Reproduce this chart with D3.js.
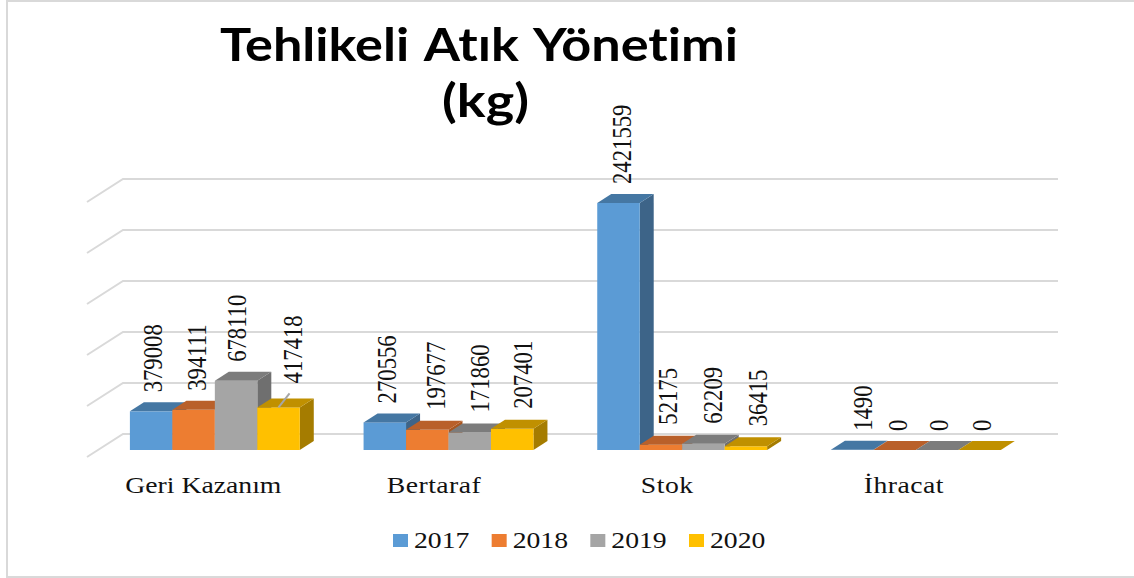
<!DOCTYPE html>
<html><head><meta charset="utf-8">
<script src="https://cdn.jsdelivr.net/npm/d3@7"></script>
<style>html,body{margin:0;padding:0;background:#fff}svg{display:block}</style>
</head><body><svg id="c" width="1134" height="578"></svg>
<script>
const categories = ["Geri Kazanım","Bertaraf","Stok","İhracat"];
const years = ["2017","2018","2019","2020"];
const values2017 = [379008,270556,2421559,1490];
const values2018 = [394111,197677,52175,0];
const values2019 = [678110,171860,62209,0];
const values2020 = [417418,207401,36415,0];
const gridTicks = [0,500000,1000000,1500000,2000000,2500000];
const series = [values2017,values2018,values2019,values2020];

const front = ["#5b9bd5","#ed7d31","#a5a5a5","#ffc000"];
const top3d = ["#4577a3","#b9602a","#7c7c7c","#c09000"];
const side3d = ["#3d6488","#a85620","#6f6f6f","#a57c00"];
// label nudges: [dx from bar centre, gap above bar top], per series then category
const nudge = [
 [[2,19],[2,19],[4,19],[11,19]],
 [[3,19],[9,20],[7,20],[3,19]],
 [[1,19],[10,20],[10,20],[2,19]],
 [[14,24],[11,20],[12,20],[2,19]]
];
const catShift = [-11.5,-14.5,-15,-12];
const catSpacing = [0,0.4,0.4,0.4];
const depthX=14, depthY=9, wallX=36, wallY=23;

const svg=d3.select("#c");
const y=d3.scaleLinear().domain([0,2500000]).range([450,195]);
const xg=d3.scaleBand().domain(categories).range([98,1032.7]).paddingInner(.273).paddingOuter(.1365);
const xs=d3.scaleBand().domain(years).range([0,xg.bandwidth()]);
const serif="'Liberation Serif','Times New Roman',serif";
const ink="#111";

// frame
svg.append("path").attr("d","M1134,1H7V577H1134").attr("fill","none").attr("stroke","#d9d9d9").attr("stroke-width",2);

// 3D wall grid
const gridBack=d=>y(d)-16;
svg.append("g").selectAll("path").data(gridTicks).join("path")
 .attr("d",d=>`M${123-wallX},${gridBack(d)+wallY}L123,${gridBack(d)}H1058`)
 .attr("fill","none").attr("stroke","#d9d9d9").attr("stroke-width",2);

// bars
const gBars=svg.append("g");
categories.forEach((cat,ci)=>{
 years.forEach((yr,si)=>{
  const v=series[si][ci], x0=xg(cat)+xs(yr), w=xs.bandwidth(), yt=y(v), yb=y(0);
  const g=gBars.append("g");
  g.append("path").attr("d",`M${x0+w},${yt}l${depthX},${-depthY}V${yb-depthY}L${x0+w},${yb}Z`).attr("fill",side3d[si]);
  g.append("rect").attr("x",x0).attr("y",yt).attr("width",w).attr("height",yb-yt).attr("fill",front[si]);
  g.append("path").attr("d",`M${x0},${yt}l${depthX},${-depthY}h${w}l${-depthX},${depthY}Z`).attr("fill",top3d[si]);
 });
});

// leader line for the 2020 label of the first category
{
 const x0=xg(categories[0])+xs(years[3])+xs.bandwidth()/2, yt=y(values2020[0]);
 svg.append("line").attr("x1",x0).attr("y1",yt).attr("x2",x0+11).attr("y2",yt-14)
  .attr("stroke","#a6a6a6").attr("stroke-width",2);
}

// data labels (the source picture is stretched horizontally by about 1.2)
const gLab=svg.append("g").attr("font-family",serif).attr("font-size",22.7).attr("fill",ink);
categories.forEach((cat,ci)=>{
 years.forEach((yr,si)=>{
  const v=series[si][ci], [dx,gap]=nudge[si][ci];
  const cx=xg(cat)+xs(yr)+xs.bandwidth()/2+dx;
  gLab.append("text")
   .attr("transform",`translate(${cx},${y(v)-gap}) scale(1.2,1) rotate(-90)`)
   .attr("dy","0.33em").text(d3.format("d")(v));
 });
});

// category labels
const gCat=svg.append("g").attr("font-family",serif).attr("font-size",22.7).attr("fill",ink);
categories.forEach((cat,i)=>{
 gCat.append("text").attr("transform",`translate(${xg(cat)+xg.bandwidth()/2+catShift[i]},493) scale(1.22,1)`)
  .attr("text-anchor","middle").attr("letter-spacing",catSpacing[i]).text(cat);
});

// legend
const lx=d3.scalePoint().domain(years).range([393,689]);
const gLeg=svg.append("g");
years.forEach((yr,i)=>{
 gLeg.append("rect").attr("x",lx(yr)).attr("y",534).attr("width",15).attr("height",13).attr("fill",front[i]);
 gLeg.append("text").attr("transform",`translate(${lx(yr)+21},548) scale(1.22,1)`)
  .attr("font-family",serif).attr("font-size",22.7).attr("fill",ink).text(yr);
});

// title
const title=svg.append("g").attr("font-family","Lato,'Open Sans',sans-serif").attr("font-weight",700).attr("font-size",45).attr("fill","#000")
 .style("font-variant-ligatures","none").attr("word-spacing",3);
title.append("text").attr("x",220).attr("y",61).attr("textLength",518).attr("lengthAdjust","spacingAndGlyphs").text("Tehlikeli Atık Yönetimi");
title.append("text").attr("x",442).attr("y",117).attr("textLength",87).attr("lengthAdjust","spacingAndGlyphs").text("(kg)");
</script></body></html>
